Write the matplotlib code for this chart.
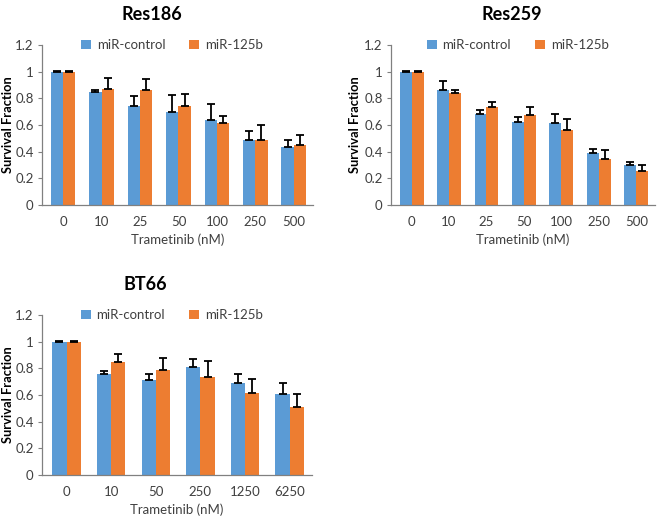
import matplotlib
matplotlib.use("Agg")
import matplotlib.pyplot as plt
import numpy as np

plt.rcParams["font.family"] = ["Lato", "DejaVu Sans"]

DOSES_RES = ["0", "10", "25", "50", "100", "250", "500"]
DOSES_BT66 = ["0", "10", "50", "250", "1250", "6250"]

RES186_CTRL = [1.0, 0.845, 0.74, 0.70, 0.635, 0.486, 0.433]
RES186_CTRL_ERR = [0.004, 0.017, 0.08, 0.125, 0.12, 0.07, 0.057]
RES186_125B = [1.0, 0.872, 0.862, 0.74, 0.618, 0.491, 0.451]
RES186_125B_ERR = [0.004, 0.077, 0.08, 0.09, 0.048, 0.11, 0.075]

RES259_CTRL = [1.0, 0.86, 0.685, 0.62, 0.613, 0.392, 0.302]
RES259_CTRL_ERR = [0.004, 0.07, 0.027, 0.042, 0.07, 0.028, 0.023]
RES259_125B = [1.0, 0.84, 0.735, 0.678, 0.563, 0.347, 0.255]
RES259_125B_ERR = [0.004, 0.022, 0.04, 0.06, 0.085, 0.066, 0.047]

BT66_CTRL = [1.0, 0.755, 0.71, 0.8125, 0.69, 0.6075]
BT66_CTRL_ERR = [0.004, 0.025, 0.05, 0.058, 0.07, 0.08]
BT66_125B = [1.0, 0.85, 0.79, 0.735, 0.613, 0.5125]
BT66_125B_ERR = [0.004, 0.055, 0.09, 0.12, 0.105, 0.0975]

SERIES = [("miR-control", "#5B9BD5"), ("miR-125b", "#ED7D31")]

W, H = 660, 520


def px_box(left, right, top, bottom):
    return [left / W, 1 - bottom / H, (right - left) / W, (bottom - top) / H]


def draw_panel(fig, box, title, title_xy, ylabel_xy, doses, ctrl, ctrl_err, mir, mir_err):
    ax = fig.add_axes(box)
    x = np.arange(len(doses))
    width = 0.32
    for i, (vals, errs) in enumerate([(ctrl, ctrl_err), (mir, mir_err)]):
        label, color = SERIES[i]
        offset = (i - 0.5) * width
        ax.bar(x + offset, vals, width, color=color, label=label, zorder=2)
        ax.errorbar(x + offset, vals, yerr=[np.zeros(len(vals)), errs],
                    fmt="none", ecolor="black", elinewidth=1.3,
                    capsize=3, capthick=1.3, zorder=3)
    ax.set_xlim(-0.55, len(doses) - 0.5)
    ax.set_ylim(0, 1.2)
    ax.set_yticks([0, 0.2, 0.4, 0.6, 0.8, 1.0, 1.2])
    ax.set_yticklabels(["0", "0.2", "0.4", "0.6", "0.8", "1", "1.2"])
    ax.set_xticks(x)
    ax.set_xticklabels(doses)
    ax.tick_params(axis="x", length=0, pad=8, labelsize=9.5, colors="#404040")
    ax.tick_params(axis="y", length=3, width=0.8, color="#808080",
                   labelsize=9.5, colors="#404040", pad=3)
    for side in ("top", "right"):
        ax.spines[side].set_visible(False)
    for side in ("left", "bottom"):
        ax.spines[side].set_color("#808080")
        ax.spines[side].set_linewidth(0.9)
    ax.set_xlabel("Trametinib (nM)", fontsize=9.5, color="#404040", labelpad=4)
    ax.legend(loc="center", bbox_to_anchor=(0.48, 1.0), ncol=2, frameon=False,
              fontsize=9.5, handlelength=0.75, handleheight=0.75,
              columnspacing=1.8, handletextpad=0.45, labelcolor="#404040")
    fig.text(ylabel_xy[0] / W, 1 - ylabel_xy[1] / H,
             "Survival Fraction", rotation=90, ha="center", va="center",
             fontsize=9.3, fontweight="bold", color="black")
    fig.text(title_xy[0] / W, 1 - title_xy[1] / H, title, ha="center",
             va="center", fontsize=13, fontweight="bold")
    return ax


fig = plt.figure(figsize=(6.6, 5.2), dpi=100)

draw_panel(fig, px_box(42, 313, 45, 205), "Res186", (152, 14), (8, 125),
           DOSES_RES, RES186_CTRL, RES186_CTRL_ERR, RES186_125B, RES186_125B_ERR)
draw_panel(fig, px_box(391, 655, 45, 205), "Res259", (512, 14), (355, 125),
           DOSES_RES, RES259_CTRL, RES259_CTRL_ERR, RES259_125B, RES259_125B_ERR)
draw_panel(fig, px_box(42, 312, 315, 475), "BT66", (145, 284), (8, 395),
           DOSES_BT66, BT66_CTRL, BT66_CTRL_ERR, BT66_125B, BT66_125B_ERR)

fig.savefig("out.png", dpi=100)
